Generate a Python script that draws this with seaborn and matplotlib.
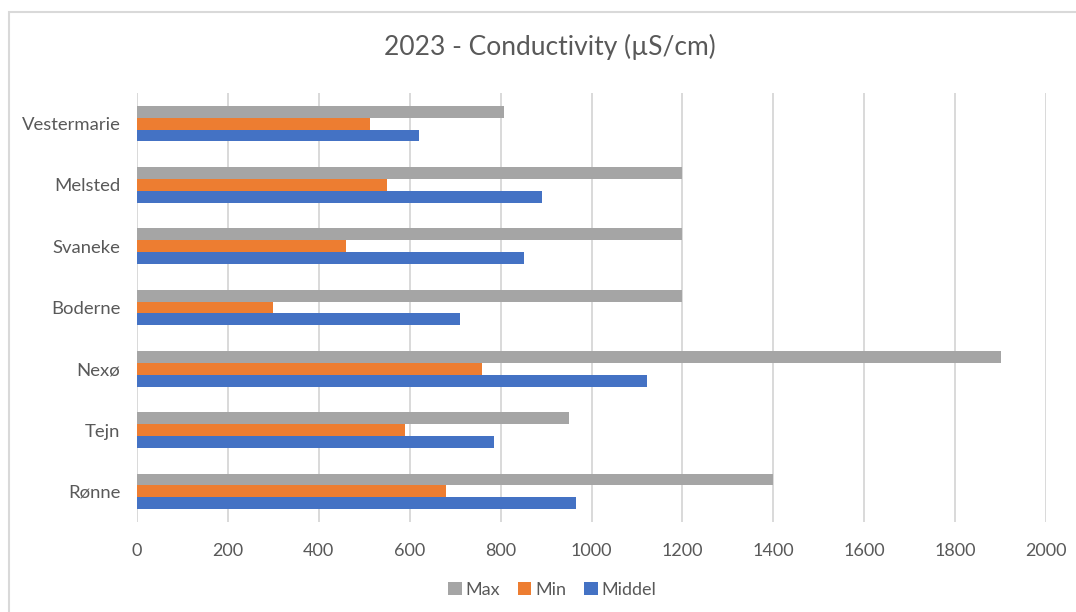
import matplotlib
matplotlib.use("Agg")
import matplotlib.pyplot as plt
from matplotlib.patches import Rectangle
import seaborn as sns
import pandas as pd

# Conductivity per station, 2023 (µS/cm)
stations = ["Vestermarie", "Melsted", "Svaneke", "Boderne", "Nexø", "Tejn", "Rønne"]
max_vals = [808, 1200, 1200, 1200, 1900, 950, 1400]
min_vals = [512, 550, 460, 300, 760, 590, 680]
mean_vals = [620, 890, 852, 710, 1122, 785, 966]
series = ["Max", "Min", "Middel"]
colors = ["#A5A5A5", "#ED7D31", "#4472C4"]
x_ticks = list(range(0, 2001, 200))
title = "2023 - Conductivity (µS/cm)"

df = pd.DataFrame({
    "Station": stations * 3,
    "Serie": [s for s in series for _ in stations],
    "Value": max_vals + min_vals + mean_vals,
})

sns.set_theme(style="white")
plt.rcParams["font.family"] = ["Lato", "DejaVu Sans"]
text_color = "#595959"
grid_color = "#D9D9D9"

W, H = 1076, 612
fig = plt.figure(figsize=(W / 100, H / 100), dpi=100)
ax = fig.add_axes([137 / W, 1 - 522 / H, (1046 - 137) / W, (522 - 93) / H])

sns.barplot(data=df, y="Station", x="Value", hue="Serie", order=stations,
            hue_order=series, palette=colors, orient="h", width=0.58,
            linewidth=0, saturation=1, ax=ax)

ax.set_xlim(0, 2000)
ax.set_ylim(len(stations) - 0.5, -0.5)
ax.set_xticks(x_ticks)
ax.set_xticklabels([str(v) for v in x_ticks])
ax.xaxis.grid(True, color=grid_color, linewidth=1.4)
ax.yaxis.grid(False)
ax.set_axisbelow(True)
for s in ax.spines.values():
    s.set_visible(False)
ax.set_xlabel("")
ax.set_ylabel("")
ax.tick_params(axis="x", length=0, pad=15, labelsize=13, labelcolor=text_color)
ax.tick_params(axis="y", length=0, pad=12, labelsize=13.3, labelcolor=text_color)

ax.legend(loc="center", bbox_to_anchor=(552 / W, 1 - 590 / H),
          bbox_transform=fig.transFigure, ncol=3, frameon=False,
          handlelength=0.75, handleheight=0.75, handletextpad=0.2,
          columnspacing=1.0, fontsize=13, labelcolor=text_color)

fig.text(550 / W, 1 - 47 / H, title, ha="center", va="center",
         fontsize=19, color=text_color)

# chart area frame
fig.patches.append(Rectangle((8.5 / W, -0.1), 1.2, 1 - 12 / H + 0.1,
                             transform=fig.transFigure, fill=False,
                             edgecolor=grid_color, linewidth=1.5))

fig.savefig("out.png", dpi=100, facecolor="white")
